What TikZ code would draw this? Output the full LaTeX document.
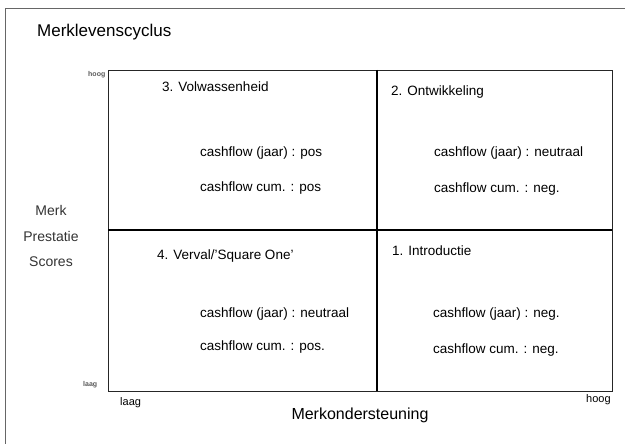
\documentclass[tikz,border=0pt]{standalone}
\usepackage{fontspec}
\setmainfont{Liberation Sans}
\begin{document}
\begin{tikzpicture}[x=1pt,y=-1pt,
  grid/.style={draw=black!85, line width=0.8pt},
  txt/.style={anchor=base west, inner sep=0pt, font=\fontsize{13.5}{15}\selectfont},
  axl/.style={anchor=base west, inner sep=0pt, font=\fontsize{11}{13}\selectfont},
  ttl/.style={anchor=base west, inner sep=0pt, font=\fontsize{13.5}{15}\selectfont},
  tiny/.style={anchor=base west, inner sep=0pt, text=black!65, font=\fontsize{7}{8}\selectfont\bfseries}]
\useasboundingbox (0,0) rectangle (625,444);
% frame
\draw[black!60, line width=0.6pt] (5,444) -- (5,8) -- (625,8);
% grid
\coordinate (tl) at (108,70);
\coordinate (br) at (612,391);
\draw[grid] (tl) rectangle (br);
\draw[line width=1.6pt] (377,70) -- (377,391);
\draw[line width=1.1pt] (108,230) -- (612,230);
% title
\node[anchor=base west, inner sep=0pt, font=\fontsize{17}{20}\selectfont] (title) at (37,37) {Merklevenscyclus};
% y axis
\node[tiny] (yh) at (88,77) {hoog};
\node[tiny] (yl) at (83,386) {laag};
\node[align=center, inner sep=0pt, font=\fontsize{14}{25.5}\selectfont, text=black!80] (ylab) at (51,236) {Merk\\Prestatie\\Scores};
% x axis
\node[axl] (xl) at (120,405) {laag};
\node[axl] (xh) at (586,402) {hoog};
\node[anchor=base, inner sep=0pt, font=\fontsize{16}{18}\selectfont] (xlab) at (360,419) {Merkondersteuning};
% quadrant 3
\node[ttl] (q3) at (162,92) {3. Volwassenheid};
\node[txt] (q3a) at (200,157) {cashflow (jaar) : pos};
\node[txt] (q3b) at (200,192) {cashflow cum. : pos};
% quadrant 2
\node[ttl] (q2) at (391,96) {2. Ontwikkeling};
\node[txt] (q2a) at (434,157) {cashflow (jaar) : neutraal};
\node[txt] (q2b) at (434,193) {cashflow cum. : neg.};
% quadrant 4
\node[ttl] (q4) at (157,259) {4. Verval/'Square One'};
\node[txt] (q4a) at (200,317) {cashflow (jaar) : neutraal};
\node[txt] (q4b) at (200,350) {cashflow cum. : pos.};
% quadrant 1
\node[ttl] (q1) at (392,255) {1. Introductie};
\node[txt] (q1a) at (433,317) {cashflow (jaar) : neg.};
\node[txt] (q1b) at (433,353) {cashflow cum. : neg.};
\end{tikzpicture}
\end{document}
